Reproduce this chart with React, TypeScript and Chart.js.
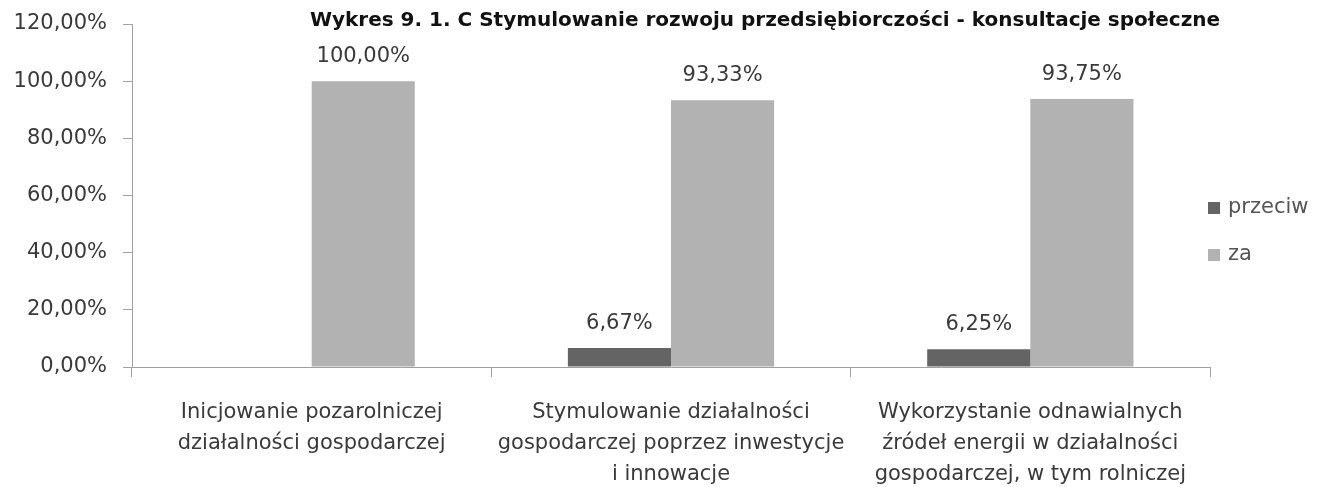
import React, { useEffect, useRef } from 'react';
import { Chart, registerables } from 'chart.js';

Chart.register(...registerables);

const chartTitle = 'Wykres 9. 1. C Stymulowanie rozwoju przedsiębiorczości - konsultacje społeczne';
const categories: string[][] = [
  ['Inicjowanie pozarolniczej', 'działalności gospodarczej'],
  ['Stymulowanie działalności', 'gospodarczej poprzez inwestycje', 'i innowacje'],
  ['Wykorzystanie odnawialnych', 'źródeł energii w działalności', 'gospodarczej, w tym rolniczej'],
];
const seriesNames = ['przeciw', 'za'];
const przeciw: (number | null)[] = [null, 6.67, 6.25];
const za: (number | null)[] = [100, 93.33, 93.75];
const seriesColors = ['#646464', '#b2b2b2'];
const yMin = 0;
const yMax = 120;
const yStep = 20;

const FONT = '"DejaVu Sans", sans-serif';
const TEXT = '#3a3a3a';
const AXIS = '#a0a0a0';

const fmt = (v: number) => v.toFixed(2).replace('.', ',') + '%';

const overlayPlugin = {
  id: 'overlay',
  afterDatasetsDraw(chart: any) {
    const ctx = chart.ctx;
    const area = chart.chartArea;
    ctx.save();
    // data labels
    ctx.font = `21px ${FONT}`;
    ctx.fillStyle = TEXT;
    ctx.textAlign = 'center';
    ctx.textBaseline = 'alphabetic';
    chart.data.datasets.forEach((ds: any, i: number) => {
      const meta = chart.getDatasetMeta(i);
      meta.data.forEach((el: any, j: number) => {
        const v = ds.data[j];
        if (v === null || v === undefined) return;
        ctx.fillText(fmt(v), el.x, el.y - 19);
      });
    });
    // title
    ctx.font = `bold 20px ${FONT}`;
    ctx.fillStyle = '#111';
    ctx.textBaseline = 'middle';
    ctx.fillText(chartTitle, 765, 21);
    // legend
    ctx.font = `21px ${FONT}`;
    ctx.textAlign = 'left';
    chart.data.datasets.forEach((ds: any, i: number) => {
      const cy = area.top + 184 + i * 47;
      const x = area.right - 2;
      ctx.fillStyle = ds.backgroundColor;
      ctx.fillRect(x, cy - 6, 12, 12);
      ctx.fillStyle = '#555';
      ctx.fillText(ds.label, x + 20, cy);
    });
    ctx.restore();
  },
};

export default function App() {
  const ref = useRef<HTMLCanvasElement | null>(null);
  useEffect(() => {
    document.body.style.margin = '0';
    if (!ref.current) return;
    const chart = new Chart(ref.current, {
      type: 'bar',
      data: {
        labels: categories,
        datasets: [
          { label: seriesNames[0], data: przeciw, backgroundColor: seriesColors[0] },
          { label: seriesNames[1], data: za, backgroundColor: seriesColors[1] },
        ],
      },
      options: {
        animation: false,
        responsive: false,
        layout: { padding: { left: 0, right: 107, top: 24, bottom: 0 } },
        datasets: { bar: { categoryPercentage: 0.574, barPercentage: 1 } },
        plugins: {
          legend: { display: false },
          title: { display: false },
          tooltip: { enabled: false },
        },
        scales: {
          x: {
            afterFit: (s: any) => { s.height = 120; },
            grid: { offset: true, drawOnChartArea: false, tickLength: 10, color: AXIS },
            border: { color: AXIS },
            ticks: {
              color: TEXT,
              font: { family: FONT, size: 21, lineHeight: 1.476 },
              padding: 20,
              maxRotation: 0,
              autoSkip: false,
            },
          },
          y: {
            min: yMin,
            max: yMax,
            afterFit: (s: any) => { s.width = 132; s.paddingTop = 0; s.paddingBottom = 0; },
            grid: { drawOnChartArea: false, tickLength: 9, color: AXIS },
            border: { color: AXIS },
            ticks: {
              stepSize: yStep,
              color: TEXT,
              padding: 16,
              font: { family: FONT, size: 21 },
              callback: (v: any) => fmt(Number(v)),
            },
          },
        },
      },
      plugins: [overlayPlugin],
    });
    return () => chart.destroy();
  }, []);
  return (
    <div style={{ width: 1317, height: 487 }}>
      <canvas ref={ref} width={1317} height={487} />
    </div>
  );
}
